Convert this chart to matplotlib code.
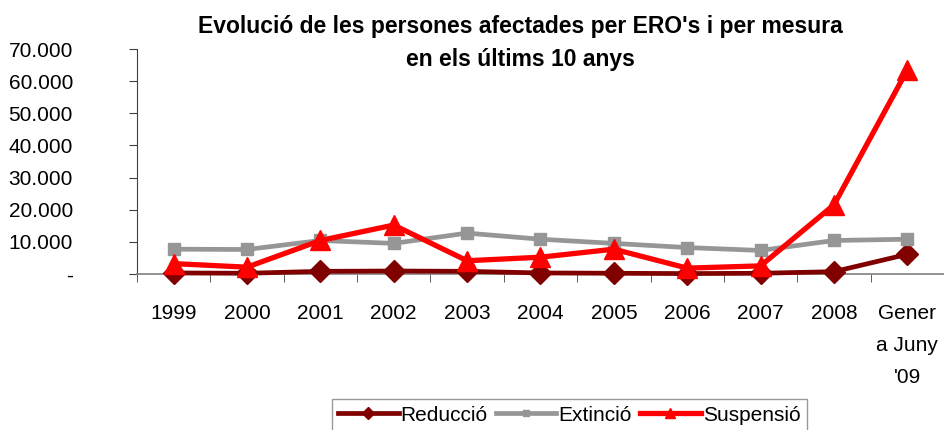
import matplotlib
matplotlib.use("Agg")
import matplotlib.pyplot as plt
from matplotlib.ticker import FuncFormatter, FixedLocator
from matplotlib.lines import Line2D

categories = ["1999", "2000", "2001", "2002", "2003", "2004", "2005", "2006", "2007", "2008", "Gener\na Juny\n'09"]
reduccio = [300, 200, 800, 900, 800, 300, 200, 100, 200, 700, 6100]
extincio = [7700, 7600, 10400, 9500, 12700, 10800, 9500, 8200, 7300, 10400, 10800]
suspensio = [3200, 2100, 10400, 15200, 4100, 5200, 7700, 1800, 2500, 21500, 63500]
yticks = [0, 10000, 20000, 30000, 40000, 50000, 60000, 70000]
title = "Evolució de les persones afectades per ERO's i per mesura\nen els últims 10 anys"

plt.rcParams['font.family'] = ['Liberation Sans', 'DejaVu Sans']

fig = plt.figure(figsize=(9.44, 4.3), dpi=100)
ax = fig.add_axes([0.145, 0.363, 0.855, 0.523])

x = list(range(len(categories)))
ax.plot(x, reduccio, color='#800000', lw=3.4, marker='D', ms=11, zorder=3, clip_on=False)
ax.plot(x, extincio, color='#969696', lw=3.4, marker='s', ms=8, zorder=4, clip_on=False)
ax.plot(x, suspensio, color='#FF0000', lw=3.8, marker='^', ms=15, zorder=5, clip_on=False)

ax.set_xlim(-0.5, len(categories) - 0.5)
ax.set_ylim(0, 70000)
ax.yaxis.set_major_locator(FixedLocator(yticks))
ax.yaxis.set_major_formatter(FuncFormatter(lambda v, p: "-" if v == 0 else f"{int(v):,}".replace(",", ".")))
ax.set_xticks(x)
ax.set_xticklabels(categories, linespacing=1.85, va='top')
ax.set_xticks([i - 0.5 for i in range(len(categories) + 1)], minor=True)
ax.tick_params(axis='x', which='major', length=0, pad=22, labelsize=15)
ax.tick_params(axis='x', which='minor', length=6, direction='out', color='#404040')
ax.tick_params(axis='y', length=6, direction='out', color='#404040', labelsize=15, pad=40)
for lbl in ax.get_yticklabels():
    lbl.set_horizontalalignment('right')

for s in ['top', 'right']:
    ax.spines[s].set_visible(False)
ax.spines['left'].set_color('#404040')
ax.spines['bottom'].set_color('#808080')
ax.spines['bottom'].set_linewidth(1.2)

fig.text(0.551, 0.900, title, ha='center', va='center', fontsize=16.5, fontweight='bold', linespacing=1.6)

handles = [
    Line2D([], [], color='#800000', lw=3.4, marker='D', ms=6),
    Line2D([], [], color='#969696', lw=3.4, marker='s', ms=5),
    Line2D([], [], color='#FF0000', lw=3.8, marker='^', ms=7),
]
leg = fig.legend(handles, ["Reducció", "Extinció", "Suspensió"], loc='lower center',
                 bbox_to_anchor=(0.603, -0.026), ncol=3, fontsize=15, frameon=True, fancybox=False,
                 handlelength=2.9, handletextpad=0.1, columnspacing=0.4, borderpad=0.3)
leg.get_frame().set_edgecolor('#808080')
leg.get_frame().set_linewidth(1.0)

fig.savefig("out.png", dpi=100)
